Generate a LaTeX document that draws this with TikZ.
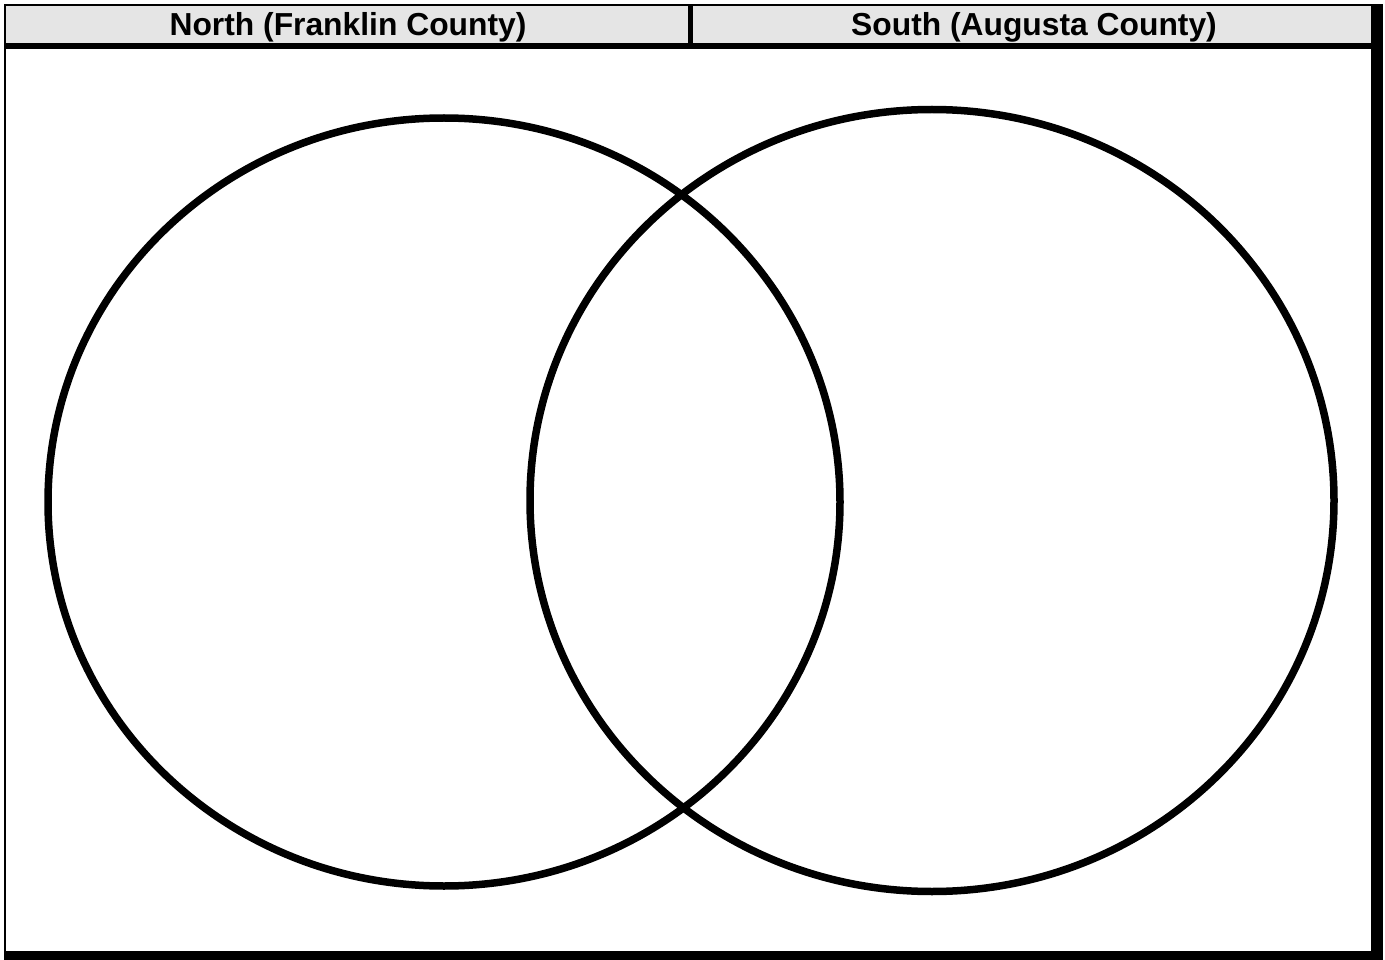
\documentclass[tikz,border=0pt]{standalone}
\usepackage{fontspec}
\setmainfont{Liberation Sans}
\definecolor{headgray}{HTML}{E5E5E5}
\begin{document}
\begin{tikzpicture}[x=1pt,y=-1pt,
  headtext/.style={anchor=base,inner sep=0pt,font=\fontsize{31.8}{36}\selectfont\bfseries},
  venn/.style={draw=black,line width=7.5pt}]
\useasboundingbox (0,0) rectangle (1385,960);
% header band
\fill[headgray] (6,6) rectangle (1371,43);
% frame
\fill[black] (4,4) rectangle (1383,6);
\fill[black] (4,4) rectangle (6,960);
\fill[black] (1371,4) rectangle (1383,960);
\fill[black] (4,951) rectangle (1383,960);
\fill[black] (6,43) rectangle (1371,49);
\fill[black] (688,6) rectangle (693,49);
% header texts
\node[headtext] (north) at (348,35.5) {North (Franklin County)};
\node[headtext] (south) at (1034,35.5) {South (Augusta County)};
% circles
\draw[venn] (444,502) ellipse [x radius=396, y radius=384];
\draw[venn] (932,500.5) ellipse [x radius=402, y radius=391];
\end{tikzpicture}
\end{document}
